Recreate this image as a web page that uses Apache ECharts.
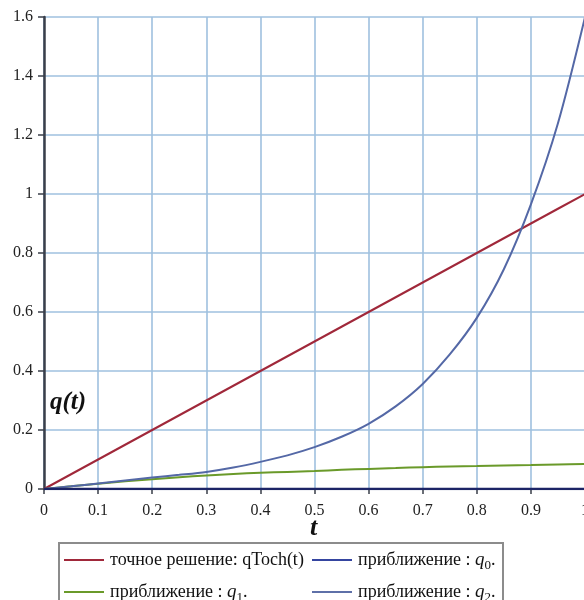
<!DOCTYPE html>
<html>
<head>
<meta charset="utf-8">
<script src="https://cdn.jsdelivr.net/npm/echarts@6/dist/echarts.min.js"></script>
<style>
  html, body { margin: 0; padding: 0; background: #fff; }
  #chart { width: 584px; height: 600px; }
</style>
</head>
<body>
<div id="chart"></div>
<script>
// time samples, step 0.05
const tValues = [0, 0.05, 0.1, 0.15, 0.2, 0.25, 0.3, 0.35, 0.4, 0.45, 0.5,
                 0.55, 0.6, 0.65, 0.7, 0.75, 0.8, 0.85, 0.9, 0.95, 1.0];
// exact solution qToch(t)
const qExact = [0, 0.05, 0.1, 0.15, 0.2, 0.25, 0.3, 0.35, 0.4, 0.45, 0.5,
                0.55, 0.6, 0.65, 0.7, 0.75, 0.8, 0.85, 0.9, 0.95, 1.0];
// approximations
const q0 = [0, 0, 0, 0, 0, 0, 0, 0, 0, 0, 0, 0, 0, 0, 0, 0, 0, 0, 0, 0, 0];
const q1 = [0, 0.009, 0.018, 0.026, 0.033, 0.040, 0.046, 0.051, 0.055, 0.058, 0.061,
            0.065, 0.068, 0.071, 0.074, 0.076, 0.078, 0.080, 0.081, 0.083, 0.085];
const q2 = [0, 0.009, 0.019, 0.029, 0.039, 0.048, 0.058, 0.073, 0.092, 0.114, 0.142,
            0.177, 0.221, 0.280, 0.356, 0.456, 0.580, 0.745, 0.965, 1.240, 1.600];

const legendLabels = {
  exact: '{a|точное решение: qToch(t)}',
  q0: '{a|приближение : }{q|q}{s|0}{a|.}',
  q1: '{a|приближение : }{q|q}{s|1}{a|.}',
  q2: '{a|приближение : }{q|q}{s|2}{a|.}'
};
// legend slot for each series: [left, top]
const legendSlots = {
  exact: [64, 550],
  q0: [312, 550],
  q1: [64, 582],
  q2: [312, 582]
};

const serif = 'Liberation Serif, Times New Roman, serif';
const pair = arr => tValues.map((t, i) => [t, arr[i]]);

const richText = {
  a: { fontFamily: serif, fontSize: 18, color: '#111' },
  q: { fontFamily: serif, fontSize: 19, fontStyle: 'italic', color: '#111' },
  s: { fontFamily: serif, fontSize: 13, color: '#111', padding: [11, 0, 0, 0] }
};

const legends = Object.keys(legendSlots).map(key => ({
  orient: 'horizontal',
  icon: 'rect',
  itemWidth: 40,
  itemHeight: 2,
  padding: 0,
  left: legendSlots[key][0],
  top: legendSlots[key][1],
  data: [key],
  selectedMode: false,
  textStyle: { lineHeight: 20, padding: [0, 0, 0, 1], rich: richText },
  formatter: name => legendLabels[name]
}));

const chart = echarts.init(document.getElementById('chart'), null, { renderer: 'canvas' });

chart.setOption({
  animation: false,
  backgroundColor: '#ffffff',
  grid: { left: 44, right: -1, top: 17, bottom: 111, containLabel: false, outerBoundsMode: 'none' },
  xAxis: {
    type: 'value',
    min: 0, max: 1, interval: 0.1,
    axisLine: { show: true, lineStyle: { color: '#3a3f4a', width: 2 } },
    axisTick: { show: true, length: 5, lineStyle: { color: '#3a3f4a', width: 1.5 } },
    axisLabel: {
      margin: 14, fontFamily: serif, fontSize: 16, color: '#222',
      formatter: v => String(+v.toFixed(1))
    },
    splitLine: { show: true, lineStyle: { color: '#9fc0df', width: 1.6 } }
  },
  yAxis: {
    type: 'value',
    min: 0, max: 1.6, interval: 0.2,
    axisLine: { show: true, lineStyle: { color: '#3a3f4a', width: 2.5 } },
    axisTick: { show: true, length: 6, lineStyle: { color: '#3a3f4a', width: 1.5 } },
    axisLabel: {
      margin: 11, fontFamily: serif, fontSize: 16, color: '#222',
      formatter: v => String(+v.toFixed(1))
    },
    splitLine: { show: true, lineStyle: { color: '#9fc0df', width: 1.6 } }
  },
  legend: legends,
  graphic: [
    {
      type: 'rect', left: 58, top: 542, z: -1,
      shape: { width: 444, height: 70 },
      style: { fill: '#fff', stroke: '#8c8c8c', lineWidth: 2 }
    },
    {
      type: 'text', left: 50, top: 390,
      style: { text: 'q(t)', font: 'italic bold 25px ' + serif, fill: '#111' }
    },
    {
      type: 'text', left: 310, top: 515,
      style: { text: 't', font: 'italic bold 26px ' + serif, fill: '#111' }
    }
  ],
  series: [
    { name: 'exact', type: 'line', data: pair(qExact), showSymbol: false, symbol: 'none',
      lineStyle: { color: '#a0283a', width: 2 }, itemStyle: { color: '#a0283a' }, z: 3 },
    { name: 'q0', type: 'line', data: pair(q0), showSymbol: false, symbol: 'none',
      lineStyle: { color: '#1c2466', width: 2.5 }, itemStyle: { color: '#3545a0' }, z: 4 },
    { name: 'q1', type: 'line', data: pair(q1), showSymbol: false, symbol: 'none', smooth: 0.3,
      lineStyle: { color: '#6a9a2a', width: 2 }, itemStyle: { color: '#6a9a2a' }, z: 3 },
    { name: 'q2', type: 'line', data: pair(q2), showSymbol: false, symbol: 'none', smooth: 0.3,
      lineStyle: { color: '#5468a6', width: 2 }, itemStyle: { color: '#5e70a8' }, z: 3 }
  ]
});
</script>
</body>
</html>
